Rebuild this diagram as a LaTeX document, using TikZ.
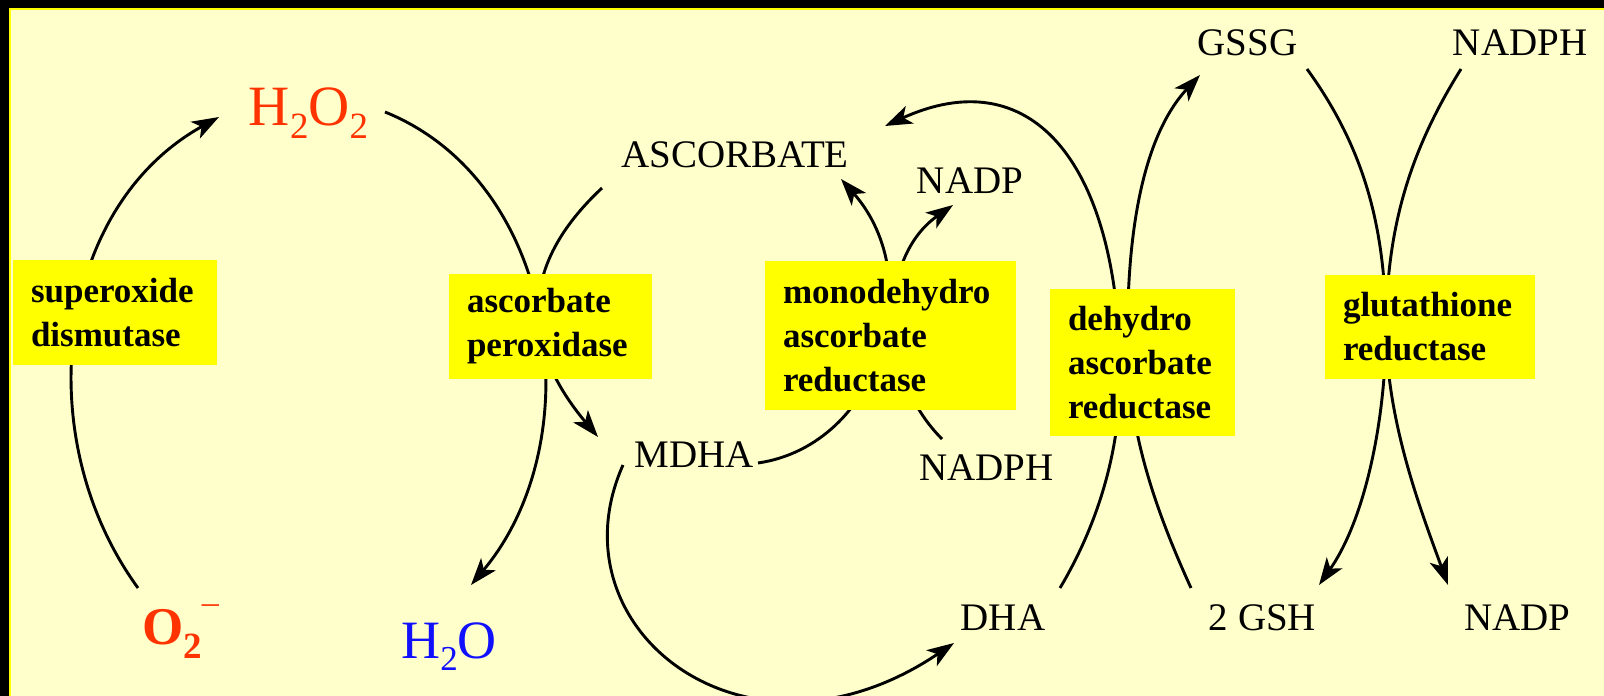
\documentclass[tikz,border=0pt]{standalone}
\usepackage{fontspec}
\setmainfont{Liberation Serif}
\usetikzlibrary{arrows.meta}
\definecolor{bgy}{HTML}{FFFFCC}
\definecolor{boxy}{HTML}{FFFF00}
\definecolor{chemred}{HTML}{FF3300}
\definecolor{chemblue}{HTML}{1010FF}
\newcommand\chsub[3]{\raisebox{-#2pt}{\fontsize{#1}{#1}\selectfont #3}}
\begin{document}
\begin{tikzpicture}[x=1pt,y=1pt,
  lab/.style={font=\fontsize{39}{39}\selectfont, inner sep=0pt, anchor=base},
  enz/.style={fill=boxy, font=\bfseries\fontsize{35}{44}\selectfont, align=left,
    inner xsep=18pt, inner ysep=0pt},
  conn/.style={line width=2.9pt, black},
  arr/.style={conn, -{Stealth[length=27pt,width=19pt,inset=7pt]}},
]
\useasboundingbox (0,0) rectangle (1604,-696);
% background and frame
\fill[bgy] (0,0) rectangle (1604,-696);
\fill[black] (0,0) rectangle (9,-696);
\fill[black] (0,0) rectangle (1604,-7.5);
\fill[boxy] (9,-7.5) rectangle (11,-696);
\fill[boxy] (9,-7.5) rectangle (1604,-9.5);

% labels
\node[lab] (asc) at (735,-167) {ASCORBATE};
\node[lab] (nadpa) at (970,-193) {NADP};
\node[lab] (mdha) at (694.5,-467) {MDHA};
\node[lab] (nadpha) at (986.5,-480) {NADPH};
\node[lab] (dha) at (1003,-630) {DHA};
\node[lab] (gsh) at (1262.5,-630) {2 GSH};
\node[lab] (nadpb) at (1517.5,-630) {NADP};
\node[lab] (gssg) at (1247.5,-55) {GSSG};
\node[lab] (nadphb) at (1520,-55) {NADPH};
\node[anchor=base, inner sep=0pt, text=chemred, font=\fontsize{57}{57}\selectfont]
  (h2o2) at (308.5,-125) {H\chsub{37}{13}{2}O\chsub{37}{13}{2}};
\node[anchor=base, inner sep=0pt, text=chemblue, font=\fontsize{54}{54}\selectfont]
  (h2o) at (449,-658) {H\chsub{35}{12}{2}O};
\node[anchor=base west, inner sep=0pt, text=chemred, font=\bfseries\fontsize{53}{53}\selectfont]
  (o2) at (142,-644) {O\chsub{37}{14}{2}\raisebox{31pt}{\mdseries\fontsize{34}{34}\selectfont –}};

% connector end points
\coordinate (o2s) at (138,-588);
\coordinate (h2o2w) at (219,-117);
\coordinate (h2o2e) at (385,-112);
\coordinate (h2on) at (471,-585);
\coordinate (ascsw) at (602,-188);
\coordinate (mdhanw) at (598,-437);
\coordinate (mdhae) at (758,-463);
\coordinate (ascse) at (841,-179);
\coordinate (mdhas) at (623,-465);
\coordinate (dhaw) at (954,-643);
\coordinate (nadphan) at (942,-439);
\coordinate (nadpas) at (953,-205);
\coordinate (dhane) at (1060,-588);
\coordinate (ascne) at (885,-126);
\coordinate (dharmida) at (1120,-360);
\coordinate (dharmidb) at (1128,-360);
\coordinate (gshnw) at (1191,-588);
\coordinate (gssgs) at (1200,-75);
\coordinate (gssgse) at (1307,-69);
\coordinate (nadphbs) at (1461,-69);
\coordinate (grmid) at (1386,-327);
\coordinate (gshne) at (1319,-585);
\coordinate (nadpbn) at (1448,-585);

% connectors
\draw[arr] (o2s) to[out=126,in=209] (h2o2w);
\draw[arr] (h2o2e) to[out=-22,in=50] (h2on);
\draw[arr] (ascsw) to[out=223,in=130,looseness=1.2] (mdhanw);
\draw[arr] (mdhae) .. controls (880,-445) and (930,-280) .. (ascse);
\draw[arr] (mdhas) .. controls (549.7,-629.5) and (746.7,-782.8) .. (dhaw);
\draw[arr] (nadphan) to[out=135,in=215] (nadpas);
\draw[arr] (dhane) .. controls (1101,-519) and (1123,-440) .. (dharmida)
  .. controls (1115,-160) and (1030,-60) .. (ascne);
\draw[arr] (gshnw) .. controls (1157.8,-515.2) and (1131,-440) .. (dharmidb)
  .. controls (1125,-250) and (1138.6,-140.8) .. (gssgs);
\draw[arr] (gssgse) .. controls (1365.8,-149.9) and (1385,-230) .. (grmid)
  .. controls (1386,-420) and (1364.9,-519.5) .. (gshne);
\draw[arr] (nadphbs) .. controls (1408,-153.8) and (1387,-230) .. (grmid)
  .. controls (1386,-420) and (1420.6,-509.8) .. (nadpbn);

% enzyme boxes
\node[enz, text width=168pt, minimum height=105pt] (sod) at (115,-312.5) {superoxide\\dismutase};
\node[enz, text width=167pt, minimum height=105pt] (apx) at (550.5,-326.5) {ascorbate\\peroxidase};
\node[enz, text width=215pt, minimum height=149pt] (mdar) at (890.5,-335.5) {monodehydro\\ascorbate\\reductase};
\node[enz, text width=149pt, minimum height=147pt] (dhar) at (1142.5,-362.5) {dehydro\\ascorbate\\reductase};
\node[enz, text width=174pt, minimum height=104pt] (gr) at (1430,-327) {glutathione\\reductase};
\end{tikzpicture}
\end{document}
